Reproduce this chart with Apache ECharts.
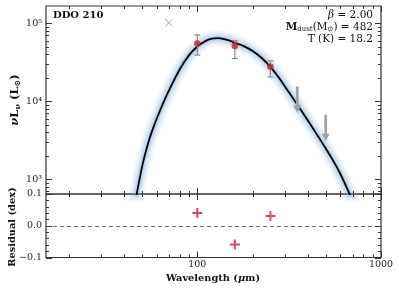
<!DOCTYPE html>
<html><head><meta charset="utf-8">
<script src="https://cdn.jsdelivr.net/npm/echarts@6/dist/echarts.min.js"></script>
<style>html,body{margin:0;padding:0;background:#fff}#c{width:399px;height:292px}</style>
</head><body><div id="c"></div>
<script>
// ---- data ----
const modelWavelength = [46, 48, 50, 52, 55, 58, 60, 65, 70, 80, 90, 100, 110, 120, 130, 140, 150, 160, 180, 200, 225, 250, 275, 300, 325, 350, 375, 400, 450, 500, 550, 600, 650, 700, 750];
const modelLum = [525, 890, 1440, 2100, 3350, 4800, 5930, 9350, 13700, 25400, 38800, 50500, 58700, 63500, 64500, 62700, 60100, 56400, 50700, 44200, 35700, 27700, 20800, 15500, 11750, 9080, 7110, 5650, 3680, 2490, 1720, 1175, 785, 530, 359];
const obsWavelength = [100, 160, 250];
const obsLum = [55200, 51400, 27700];
const obsLow = [39200, 35400, 20500];
const obsHigh = [71000, 59700, 33000];
const upperWavelength = [350, 500];
const upperLum = [15500, 6730];
const excludedWavelength = [70];
const excludedLum = [102000];
const residualWavelength = [100, 160, 250];
const residualDex = [0.040, -0.059, 0.031];
const xMajorTicks = [100, 1000];
const xMinorTicks = [20, 30, 40, 50, 60, 70, 80, 90, 200, 300, 400, 500, 600, 700, 800, 900];
const yMajorTicks = [1000, 10000, 100000];
const yMinorTicks = [700, 800, 900, 2000, 3000, 4000, 5000, 6000, 7000, 8000, 9000, 20000, 30000, 40000, 50000, 60000, 70000, 80000, 90000];
const resMajorTicks = [-0.1, 0, 0.1];
const resMinorTicks = [-0.08, -0.06, -0.04, -0.02, 0.02, 0.04, 0.06, 0.08];
const xLabels = ['100', '1000'];
const yLabels = ['10³', '10⁴', '10⁵'];

const FONT = 'DejaVu Serif';
const X_MIN = 15, X_MAX = 1000, Y_MIN = 646, Y_MAX = 167000;
const RED = '#d41c1c';

const pair = (a, b) => a.map((v, i) => [v, b[i]]);
const isPow10 = v => { const e = Math.log10(v); return Math.abs(e - Math.round(e)) < 1e-6; };

function tickSeries(xi, yi, values, dir, len, y0x0) {
  return {
    type: 'custom', xAxisIndex: xi, yAxisIndex: yi, silent: true, z: 20,
    data: values.map(v => dir === 'x' ? [v, y0x0] : [y0x0, v]),
    renderItem(params, api) {
      const p = api.coord([api.value(0), api.value(1)]);
      const cs = params.coordSys;
      const st = { stroke: '#333', lineWidth: 1 };
      if (dir === 'x') {
        const x = Math.round(p[0]) + 0.5;
        return { type: 'group', children: [
          { type: 'line', shape: { x1: x, y1: cs.y, x2: x, y2: cs.y + len }, style: st },
          { type: 'line', shape: { x1: x, y1: cs.y + cs.height, x2: x, y2: cs.y + cs.height - len }, style: st }
        ]};
      }
      const y = Math.round(p[1]) + 0.5;
      return { type: 'group', children: [
        { type: 'line', shape: { x1: cs.x, y1: y, x2: cs.x + len, y2: y }, style: st },
        { type: 'line', shape: { x1: cs.x + cs.width, y1: y, x2: cs.x + cs.width - len, y2: y }, style: st }
      ]};
    }
  };
}

const plusPath = 'path://M-1,-5L1,-5L1,-1L5,-1L5,1L1,1L1,5L-1,5L-1,1L-5,1L-5,-1L-1,-1Z';
const xPath = 'path://M-4.6,-4L-4,-4.6L0,-0.6L4,-4.6L4.6,-4L0.6,0L4.6,4L4,4.6L0,0.6L-4,4.6L-4.6,4L-0.6,0Z';

const modelData = pair(modelWavelength, modelLum);
const bandLine = (w, a) => ({
  type: 'line', xAxisIndex: 0, yAxisIndex: 0, data: modelData, smooth: 0.3, showSymbol: false, silent: true,
  lineStyle: { width: w, color: 'rgba(110,160,210,' + a + ')', cap: 'round' }, z: 2
});

const chart = echarts.init(document.getElementById('c'), null, { renderer: 'canvas' });
chart.setOption({
  animation: false,
  backgroundColor: '#fff',
  grid: [
    { left: 46, top: 6, width: 335, height: 188, show: true, borderColor: '#333', borderWidth: 1.2, backgroundColor: 'transparent' },
    { left: 46, top: 194, width: 335, height: 63.5, show: true, borderColor: '#333', borderWidth: 1.2, backgroundColor: 'transparent' }
  ],
  xAxis: [
    { gridIndex: 0, type: 'log', min: X_MIN, max: X_MAX, axisLabel: { show: false }, axisTick: { show: false }, axisLine: { show: false }, splitLine: { show: false } },
    { gridIndex: 1, type: 'log', min: X_MIN, max: X_MAX, axisTick: { show: false }, axisLine: { show: false }, splitLine: { show: false },
      axisLabel: { margin: 2.5, fontFamily: FONT, fontSize: 9.5, color: '#222', showMinLabel: false,
        formatter: v => { if (!isPow10(v)) return ''; const i = xMajorTicks.indexOf(Math.round(v)); return i >= 0 ? xLabels[i] : ''; } } }
  ],
  yAxis: [
    { gridIndex: 0, type: 'log', min: Y_MIN, max: Y_MAX, axisTick: { show: false }, axisLine: { show: false }, splitLine: { show: false },
      axisLabel: { margin: 4, fontFamily: FONT, fontSize: 9.5, color: '#222', showMinLabel: false, showMaxLabel: false,
        formatter: v => { if (!isPow10(v)) return ''; const i = yMajorTicks.indexOf(Math.round(v)); return i >= 0 ? yLabels[i] : ''; } } },
    { gridIndex: 1, type: 'value', min: -0.1, max: 0.1, interval: 0.1, axisTick: { show: false }, axisLine: { show: false }, splitLine: { show: false },
      axisLabel: { margin: 4, fontFamily: FONT, fontSize: 9.5, color: '#222',
        formatter: v => Math.abs(v) < 1e-9 ? '0.0' : (v > 0 ? v.toFixed(1) : '\u2212' + Math.abs(v).toFixed(1)) } }
  ],
  series: [
    bandLine(16, 0.08), bandLine(12, 0.11), bandLine(8, 0.16), bandLine(4.5, 0.22),
    { type: 'line', xAxisIndex: 0, yAxisIndex: 0, data: modelData, smooth: 0.3, showSymbol: false, silent: true,
      lineStyle: { width: 1.8, color: '#000' }, z: 5 },
    { type: 'custom', xAxisIndex: 0, yAxisIndex: 0, silent: true, z: 6,
      data: obsWavelength.map((w, i) => [w, obsLow[i], obsHigh[i]]),
      renderItem(params, api) {
        const lo = api.coord([api.value(0), api.value(1)]);
        const hi = api.coord([api.value(0), api.value(2)]);
        const st = { stroke: '#8a8a8a', lineWidth: 1.2 };
        return { type: 'group', children: [
          { type: 'line', shape: { x1: lo[0], y1: lo[1], x2: hi[0], y2: hi[1] }, style: st },
          { type: 'line', shape: { x1: lo[0] - 3, y1: lo[1], x2: lo[0] + 3, y2: lo[1] }, style: st },
          { type: 'line', shape: { x1: hi[0] - 3, y1: hi[1], x2: hi[0] + 3, y2: hi[1] }, style: st }
        ]};
      } },
    { type: 'scatter', xAxisIndex: 0, yAxisIndex: 0, data: pair(obsWavelength, obsLum), symbol: 'circle', symbolSize: 6.5,
      itemStyle: { color: RED }, z: 8, silent: true },
    { type: 'custom', xAxisIndex: 0, yAxisIndex: 0, silent: true, z: 7,
      data: pair(upperWavelength, upperLum),
      renderItem(params, api) {
        const p = api.coord([api.value(0), api.value(1)]);
        const x = p[0], y = p[1];
        const c = '#a3a3a3';
        return { type: 'group', children: [
          { type: 'rect', shape: { x: x - 1.4, y: y, width: 2.8, height: 20 }, style: { fill: c } },
          { type: 'polygon', shape: { points: [[x - 4, y + 19], [x + 4, y + 19], [x, y + 26.5]] }, style: { fill: c } }
        ]};
      } },
    { type: 'scatter', xAxisIndex: 0, yAxisIndex: 0, data: pair(excludedWavelength, excludedLum), symbol: xPath, symbolSize: 8,
      itemStyle: { color: '#8f8f8f' }, z: 8, silent: true },
    { type: 'scatter', xAxisIndex: 1, yAxisIndex: 1, data: pair(residualWavelength, residualDex), symbol: plusPath, symbolSize: 10,
      itemStyle: { color: RED }, z: 8, silent: true,
      markLine: { silent: true, symbol: 'none', data: [{ yAxis: 0 }], label: { show: false },
        lineStyle: { type: [4, 3], color: '#666', width: 1 } } },
    tickSeries(0, 0, xMajorTicks, 'x', 6, 1000),
    tickSeries(0, 0, xMinorTicks, 'x', 3, 1000),
    tickSeries(0, 0, yMajorTicks, 'y', 6, 100),
    tickSeries(0, 0, yMinorTicks, 'y', 3, 100),
    tickSeries(1, 1, xMajorTicks, 'x', 6, 0),
    tickSeries(1, 1, xMinorTicks, 'x', 3, 0),
    tickSeries(1, 1, resMajorTicks, 'y', 6, 100),
    tickSeries(1, 1, resMinorTicks, 'y', 3, 100)
  ],
  graphic: [
    { type: 'text', x: 53, y: 15, z: 30, style: { text: 'DDO 210', font: 'bold 10px "DejaVu Serif"', fill: '#111', verticalAlign: 'middle' } },
    { type: 'text', x: 373, y: 15, z: 30, style: { text: '{i|β} = 2.00', font: '10.5px "DejaVu Serif"', fill: '#111', align: 'right', verticalAlign: 'middle',
        rich: { i: { fontStyle: 'italic', fontFamily: FONT, fontSize: 10.5 } } } },
    { type: 'text', x: 373, y: 27, z: 30, style: { text: '{b|M}{s|dust}{a|(M}{s|⊙}{a|) = 482}', fill: '#111', align: 'right', verticalAlign: 'middle',
        rich: { b: { fontFamily: FONT, fontSize: 10.5, fontWeight: 'bold', lineHeight: 12 }, a: { fontFamily: FONT, fontSize: 10.5, lineHeight: 12 },
          s: { fontFamily: FONT, fontSize: 7, lineHeight: 12, verticalAlign: 'bottom', padding: [4, 0, 0, 0] } } } },
    { type: 'text', x: 373, y: 39, z: 30, style: { text: 'T (K) = 18.2', font: '10.5px "DejaVu Serif"', fill: '#111', align: 'right', verticalAlign: 'middle' } },
    { type: 'text', x: 15, y: 100, rotation: Math.PI / 2, z: 30, style: { text: '{i|ν}{a|L}{s|ν}{a| (L}{s|⊙}{a|)}', fill: '#111', align: 'center', verticalAlign: 'middle',
        rich: { i: { fontFamily: FONT, fontSize: 11.5, fontStyle: 'italic', fontWeight: 'bold', lineHeight: 13 },
          a: { fontFamily: FONT, fontSize: 11.5, fontWeight: 'bold', lineHeight: 13 },
          s: { fontFamily: FONT, fontSize: 8, fontWeight: 'bold', lineHeight: 13, verticalAlign: 'bottom', padding: [4, 0, 0, 0] } } } },
    { type: 'text', x: 12, y: 227, rotation: Math.PI / 2, z: 30, style: { text: 'Residual (dex)', font: 'bold 9.8px "DejaVu Serif"', fill: '#111', align: 'center', verticalAlign: 'middle' } },
    { type: 'text', x: 213, y: 278.5, z: 30, style: { text: '{a|Wavelength (}{i|μ}{a|m)}', fill: '#111', align: 'center', verticalAlign: 'middle',
        rich: { a: { fontFamily: FONT, fontSize: 9.8, fontWeight: 'bold' }, i: { fontFamily: FONT, fontSize: 9.8, fontWeight: 'bold', fontStyle: 'italic' } } } }
  ]
});
</script>
</body></html>
